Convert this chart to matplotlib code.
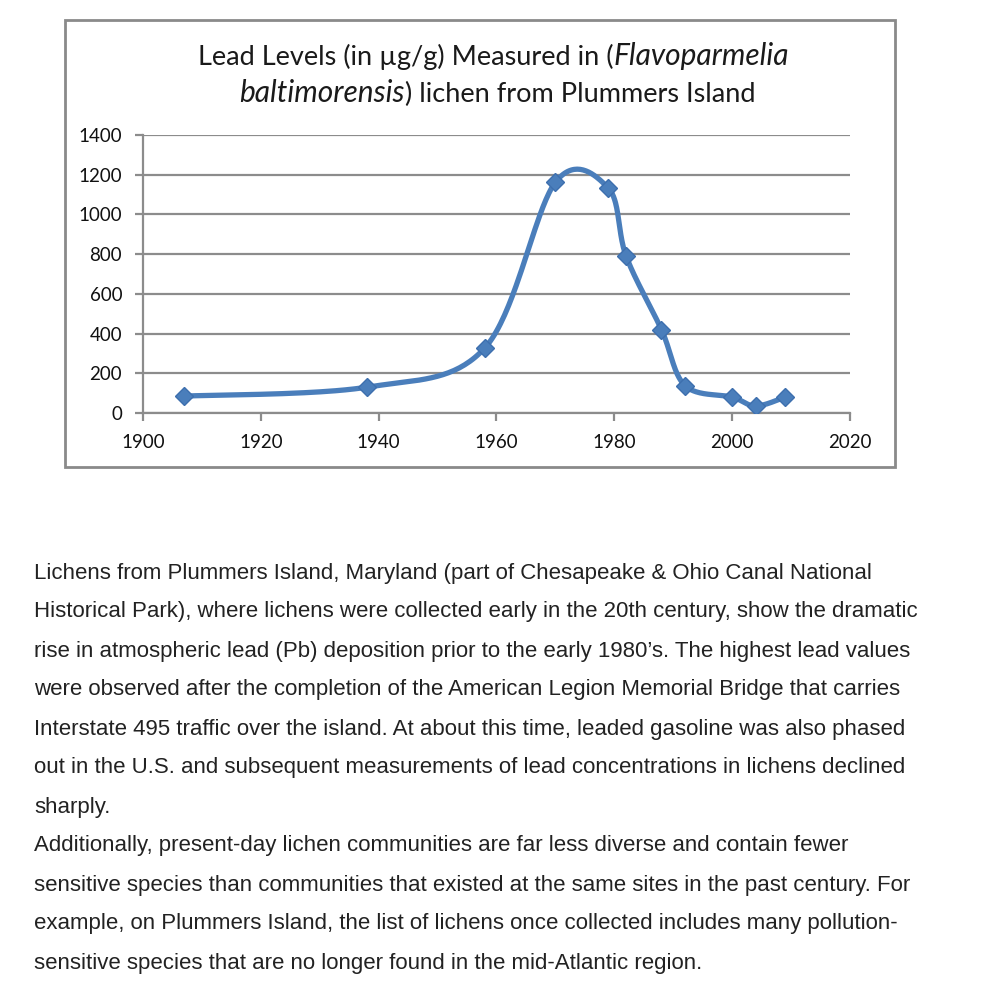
import numpy as np
import matplotlib.pyplot as plt
from matplotlib.patches import Rectangle

# data
years = [1907, 1938, 1958, 1970, 1979, 1982, 1988, 1992, 2000, 2004, 2009]
lead = [85, 130, 327, 1162, 1132, 790, 420, 138, 80, 35, 80]

x_ticks = [1900, 1920, 1940, 1960, 1980, 2000, 2020]
y_ticks = [0, 200, 400, 600, 800, 1000, 1200, 1400]

paragraph = [
    "Lichens from Plummers Island, Maryland (part of Chesapeake & Ohio Canal National",
    "Historical Park), where lichens were collected early in the 20th century, show the dramatic",
    "rise in atmospheric lead (Pb) deposition prior to the early 1980\u2019s. The highest lead values",
    "were observed after the completion of the American Legion Memorial Bridge that carries",
    "Interstate 495 traffic over the island. At about this time, leaded gasoline was also phased",
    "out in the U.S. and subsequent measurements of lead concentrations in lichens declined",
    "sharply.",
    "Additionally, present-day lichen communities are far less diverse and contain fewer",
    "sensitive species than communities that existed at the same sites in the past century. For",
    "example, on Plummers Island, the list of lichens once collected includes many pollution-",
    "sensitive species that are no longer found in the mid-Atlantic region.",
]


def smooth(xs, ys, n=40):
    # Excel-like smoothed line (Catmull-Rom bezier through the points)
    p = np.column_stack([xs, ys]).astype(float)
    p = np.vstack([p[0], p, p[-1]])
    out = []
    for i in range(1, len(p) - 2):
        p0, p1, p2, p3 = p[i - 1], p[i], p[i + 1], p[i + 2]
        c1 = p1 + (p2 - p0) / 6
        c2 = p2 - (p3 - p1) / 6
        t = np.linspace(0, 1, n)[:, None]
        seg = (1 - t) ** 3 * p1 + 3 * (1 - t) ** 2 * t * c1 + 3 * (1 - t) * t ** 2 * c2 + t ** 3 * p2
        out.append(seg)
    out = np.vstack(out)
    return out[:, 0], out[:, 1]


fig = plt.figure(figsize=(10, 9.99), dpi=100)

# chart frame
fig.patches.append(Rectangle((0.065, 1 - 467 / 999), 0.83, (467 - 20) / 999,
                             transform=fig.transFigure, fill=False,
                             edgecolor='#8a8a8a', linewidth=2))

ax = fig.add_axes([0.143, 1 - 413 / 999, 0.707, (413 - 135) / 999])
sx, sy = smooth(years, lead)
ax.plot(sx, sy, color='#4a7ebb', linewidth=3.8, solid_capstyle='round', zorder=3)
ax.plot(years, lead, linestyle='none', marker='D', markersize=9,
        color='#4a7ebb', markeredgecolor='#3d6fae', zorder=4)

ax.set_xlim(1900, 2020)
ax.set_ylim(0, 1400)
ax.set_xticks(x_ticks)
ax.set_yticks(y_ticks)
ax.grid(axis='y', color='#8c8c8c', linewidth=1.6)
ax.set_axisbelow(True)
for s in ['top', 'right']:
    ax.spines[s].set_visible(False)
for s in ['left', 'bottom']:
    ax.spines[s].set_color('#8c8c8c')
    ax.spines[s].set_linewidth(1.6)
ax.tick_params(colors='#8c8c8c', width=1.6, length=6, labelcolor='#111111')
ax.tick_params(axis='y', labelsize=13.5, pad=9)
ax.tick_params(axis='x', labelsize=13.5, pad=9)
for lab in ax.get_xticklabels() + ax.get_yticklabels():
    lab.set_family('Lato')

# title (mixed upright / italic)
tsize = 19.5
isize = 21.5
fig.text(0.614, 1 - 65 / 999, "Lead Levels (in \u00b5g/g) Measured in (", ha='right', va='baseline',
         fontsize=tsize, family='Lato', color='#1a1a1a')
fig.text(0.614, 1 - 65 / 999, "Flavoparmelia", ha='left', va='baseline',
         fontsize=isize, family='Lato', style='italic', color='#1a1a1a')
fig.text(0.405, 1 - 102 / 999, "baltimorensis", ha='right', va='baseline',
         fontsize=isize, family='Lato', style='italic', color='#1a1a1a')
fig.text(0.405, 1 - 102 / 999, ") lichen from Plummers Island", ha='left', va='baseline',
         fontsize=tsize, family='Lato', color='#1a1a1a')

# paragraph below the chart
for i, line in enumerate(paragraph):
    fig.text(0.034, 1 - (573 + 39 * i) / 999, line, ha='left', va='center',
             fontsize=16, family='Liberation Sans', color='#222222')

fig.savefig('out.png', dpi=100)
